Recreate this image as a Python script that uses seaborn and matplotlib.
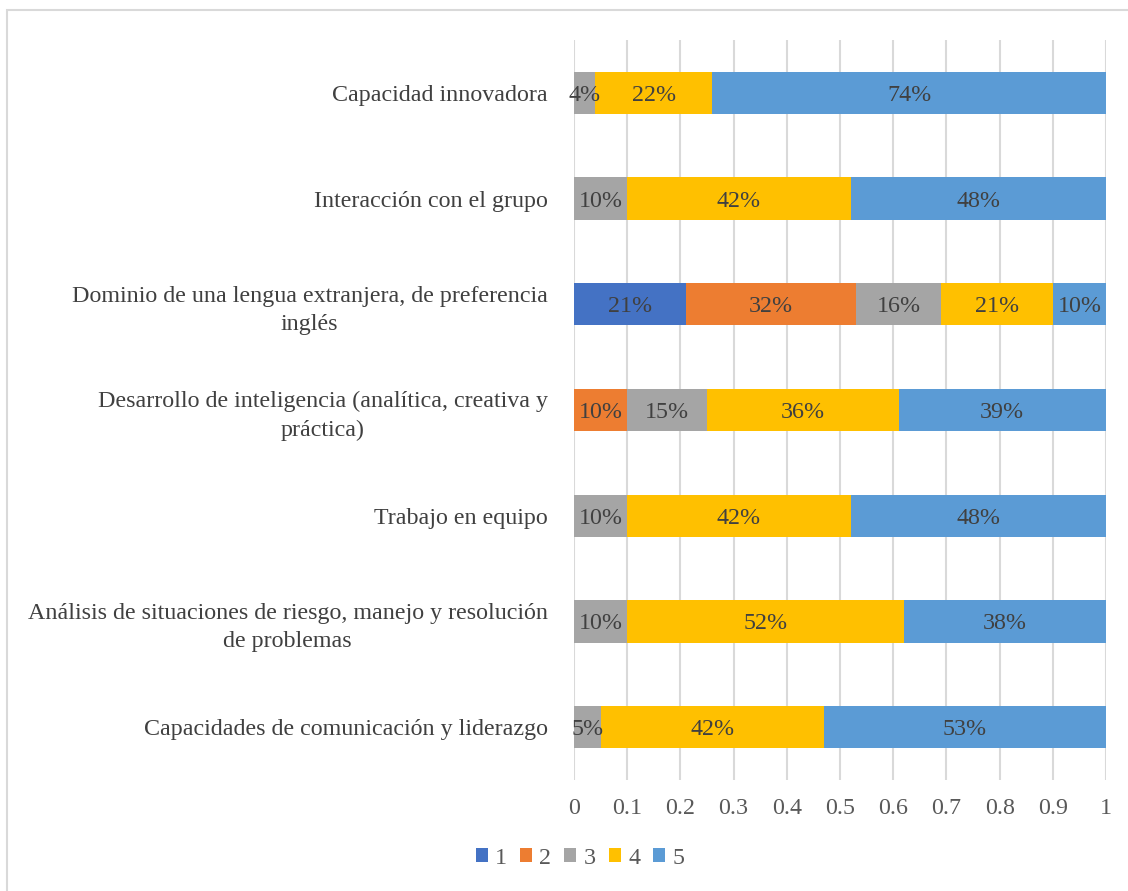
import numpy as np
import pandas as pd
import seaborn as sns
import matplotlib.pyplot as plt
from matplotlib.patches import Rectangle, Patch

categories = [
    "Capacidad innovadora",
    "Interacción con el grupo",
    "Dominio de una lengua extranjera, de preferencia\ninglés",
    "Desarrollo de inteligencia (analítica, creativa y\npráctica)",
    "Trabajo en equipo",
    "Análisis de situaciones de riesgo, manejo y resolución\nde problemas",
    "Capacidades de comunicación y liderazgo",
]
series_names = ["1", "2", "3", "4", "5"]
s1 = [0.00, 0.00, 0.21, 0.00, 0.00, 0.00, 0.00]
s2 = [0.00, 0.00, 0.32, 0.10, 0.00, 0.00, 0.00]
s3 = [0.04, 0.10, 0.16, 0.15, 0.10, 0.10, 0.05]
s4 = [0.22, 0.42, 0.21, 0.36, 0.42, 0.52, 0.42]
s5 = [0.74, 0.48, 0.10, 0.39, 0.48, 0.38, 0.53]
colors = ["#4472C4", "#ED7D31", "#A5A5A5", "#FFC000", "#5B9BD5"]
xticks = [0, 0.1, 0.2, 0.3, 0.4, 0.5, 0.6, 0.7, 0.8, 0.9, 1]
xtick_labels = ["0", "0.1", "0.2", "0.3", "0.4", "0.5", "0.6", "0.7", "0.8", "0.9", "1"]

sns.set_theme(style="white")
plt.rcParams["font.family"] = ["Liberation Serif", "DejaVu Serif"]
FS = 17.3

values = np.array([s1, s2, s3, s4, s5])
cum = values.cumsum(axis=0)
starts = cum - values

fig = plt.figure(figsize=(11.28, 8.91), dpi=100)
ax = fig.add_axes([574 / 1128, 1 - 780 / 891, (1106 - 574) / 1128, 740 / 891])

# stacked bars: draw cumulative totals from the widest layer down
for i in range(len(series_names) - 1, -1, -1):
    df = pd.DataFrame({"cat": categories, "val": cum[i]})
    sns.barplot(data=df, x="val", y="cat", orient="h", color=colors[i],
                saturation=1, width=0.4, linewidth=0, edgecolor="none",
                ax=ax, zorder=2)

# value labels centred in each segment
for i in range(len(series_names)):
    for j in range(len(categories)):
        v = values[i, j]
        if v > 0:
            ax.text(starts[i, j] + v / 2, j, f"{round(v * 100):d}%",
                    ha="center", va="center_baseline", fontsize=FS,
                    color="#404040", zorder=3)

ax.set_xlim(0, 1)
ax.set_ylim(6.5, -0.5)
ax.set_xticks(xticks)
ax.set_xticklabels(xtick_labels)
ax.xaxis.grid(True, color="#D9D9D9", linewidth=1.5, zorder=0)
ax.yaxis.grid(False)
ax.set_axisbelow(True)
for sp in ax.spines.values():
    sp.set_visible(False)
ax.set_xlabel("")
ax.set_ylabel("")
ax.tick_params(axis="x", length=0, pad=13, labelsize=FS, labelcolor="#595959")
ax.tick_params(axis="y", length=0, pad=19, labelsize=FS, labelcolor="#404040")
for lab in ax.get_yticklabels():
    lab.set_multialignment("center")
    lab.set_linespacing(1.45)

handles = [Patch(facecolor=c, edgecolor="none") for c in colors]
fig.legend(handles, series_names, loc="center", bbox_to_anchor=(580 / 1128, 1 - 858 / 891),
           ncol=5, frameon=False, fontsize=FS, handlelength=0.5, handleheight=0.5,
           handletextpad=0.3, columnspacing=0.55, labelcolor="#595959")

# light chart border
fig.patches.append(Rectangle((7 / 1128, -0.05), 1.2, 1 - 10 / 891 + 0.05,
                             transform=fig.transFigure, fill=False,
                             edgecolor="#D9D9D9", linewidth=1.5))

fig.savefig("out.png", dpi=100)
